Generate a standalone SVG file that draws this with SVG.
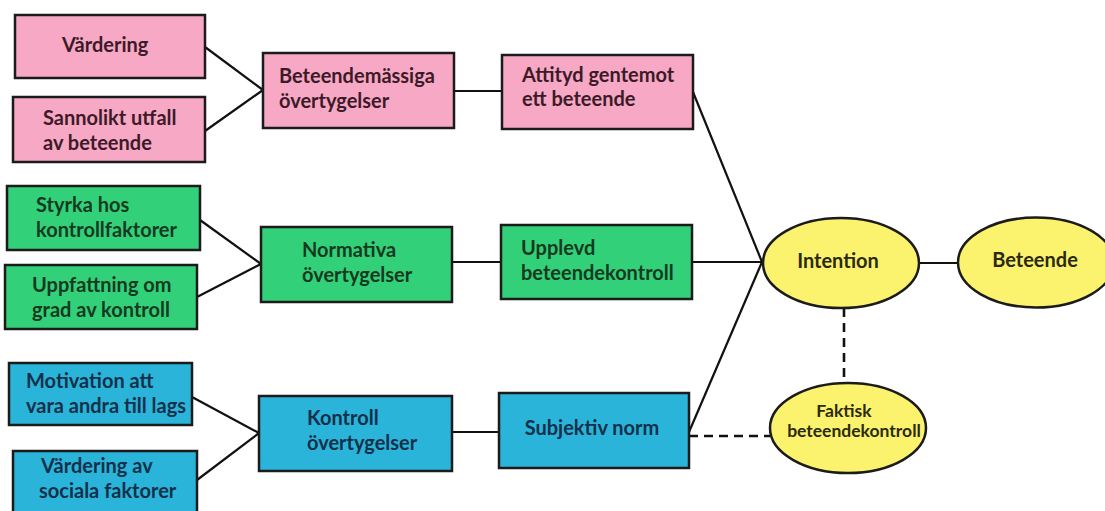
<svg xmlns="http://www.w3.org/2000/svg" width="1105" height="511" viewBox="0 0 1105 511">
<style>
.n{stroke:#1b1b1b;stroke-width:2.5}
.p{fill:#F7A8C4}.g{fill:#33D07A}.b{fill:#2AB4D9}.y{fill:#FBF36E}
text{font-family:Lato,"Open Sans","Liberation Sans",sans-serif;font-weight:700;font-size:20px}
.tp{fill:#3D1A28}.tg{fill:#153A1E}.tb{fill:#14304A}.ty{fill:#2A2A10}
.c{text-anchor:middle}
.s{font-size:17.5px}
#connectors line{stroke:#111;stroke-width:2.2}
#connectors .d{stroke-dasharray:9 6;stroke-width:2.6}
</style>
<rect width="1105" height="511" fill="#fff"/>
<g id="connectors">
<line x1="205" y1="47" x2="263" y2="90"/>
<line x1="205" y1="131" x2="263" y2="90"/>
<line x1="454" y1="91" x2="502" y2="91"/>
<line x1="693" y1="92" x2="762" y2="262"/>
<line x1="200" y1="220" x2="261" y2="264"/>
<line x1="197" y1="297" x2="261" y2="264"/>
<line x1="452" y1="262" x2="501" y2="262"/>
<line x1="692" y1="262" x2="763" y2="262"/>
<line x1="192" y1="397" x2="259" y2="433"/>
<line x1="197" y1="480" x2="259" y2="433"/>
<line x1="452" y1="432" x2="499" y2="432"/>
<line x1="689" y1="432" x2="762" y2="262"/>
<line x1="919" y1="263" x2="958" y2="263"/>
<line class="d" x1="844" y1="308" x2="844" y2="383"/>
<line class="d" x1="689" y1="436" x2="770" y2="436"/>
</g>
<g id="vardering"><rect class="n p" x="15" y="15" width="190" height="63"/><text class="tp" x="62" y="52">Värdering</text></g>
<g id="sannolikt"><rect class="n p" x="13" y="97" width="192" height="65"/><text class="tp" x="43" y="125">Sannolikt utfall</text><text class="tp" x="43" y="150">av beteende</text></g>
<g id="beteendemassiga"><rect class="n p" x="263" y="53" width="191" height="75"/><text class="tp" x="279" y="83">Beteendemässiga</text><text class="tp" x="279" y="108">övertygelser</text></g>
<g id="attityd"><rect class="n p" x="502" y="55" width="191" height="74"/><text class="tp" x="522" y="82">Attityd gentemot</text><text class="tp" x="522" y="106">ett beteende</text></g>
<g id="styrka"><rect class="n g" x="7" y="186" width="193" height="64"/><text class="tg" x="36" y="212">Styrka hos</text><text class="tg" x="36" y="237">kontrollfaktorer</text></g>
<g id="uppfattning"><rect class="n g" x="5" y="265" width="192" height="64"/><text class="tg" x="32" y="292">Uppfattning om</text><text class="tg" x="32" y="317">grad av kontroll</text></g>
<g id="normativa"><rect class="n g" x="261" y="227" width="191" height="75"/><text class="tg" x="302" y="257">Normativa</text><text class="tg" x="302" y="282">övertygelser</text></g>
<g id="upplevd"><rect class="n g" x="501" y="225" width="191" height="74"/><text class="tg" x="521" y="255">Upplevd</text><text class="tg" x="521" y="280">beteendekontroll</text></g>
<g id="motivation"><rect class="n b" x="9" y="363" width="183" height="62"/><text class="tb" x="26" y="388">Motivation att</text><text class="tb" x="26" y="413">vara andra till lags</text></g>
<g id="vardering-av"><rect class="n b" x="13" y="451" width="184" height="66"/><text class="tb" x="41" y="473">Värdering av</text><text class="tb" x="39" y="498">sociala faktorer</text></g>
<g id="kontroll"><rect class="n b" x="259" y="396" width="193" height="75"/><text class="tb" x="307" y="425">Kontroll</text><text class="tb" x="307" y="450">övertygelser</text></g>
<g id="subjektiv"><rect class="n b" x="499" y="393" width="190" height="75"/><text class="tb c" x="592" y="435">Subjektiv norm</text></g>
<g id="intention"><ellipse class="n y" cx="841" cy="263" rx="78" ry="45"/><text class="ty c" x="838" y="268">Intention</text></g>
<g id="beteende"><ellipse class="n y" cx="1036" cy="262.5" rx="78" ry="45"/><text class="ty c" x="1035" y="267">Beteende</text></g>
<g id="faktisk"><ellipse class="n y" cx="848" cy="428" rx="78" ry="45"/><text class="ty c s" x="844" y="417">Faktisk</text><text class="ty c s" x="854" y="437">beteendekontroll</text></g>
</svg>
